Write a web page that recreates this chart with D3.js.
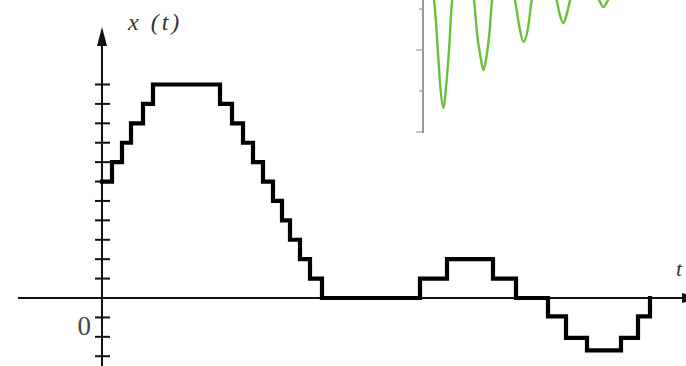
<!DOCTYPE html>
<html>
<head>
<meta charset="utf-8">
<script src="https://cdn.jsdelivr.net/npm/d3@7"></script>
<style>
  body { margin: 0; background: #fff; }
  svg { display: block; }
</style>
</head>
<body>
<script>
var width = 686, height = 366;

// quantized signal: step start time and level
var stepT = [0, 1.0, 2.0, 2.9, 4.1, 5.1, 11.8, 13.0, 14.1, 15.1, 16.1, 17.1, 18.0, 18.8, 19.8, 20.8, 22.0,
             31.8, 34.5, 39.1, 41.4, 44.6, 46.4, 48.5, 51.9, 53.6, 54.8];
var stepLevel = [6, 7, 8, 9, 10, 11, 10, 9, 8, 7, 6, 5, 4, 3, 2, 1, 0,
                 1, 2, 1, 0, -0.95, -2.05, -2.7, -2.05, -0.95, 0];
var yTicks = [-3, -2, -1, 1, 2, 3, 4, 5, 6, 7, 8, 9, 10, 11];

// inset (green damped curve)
var insetT = [0, 0.275, 0.37, 0.425, 0.51, 0.585, 0.65, 0.73, 1.0,
              1.275, 1.35, 1.45, 1.51, 1.575, 1.66, 1.73, 2.0,
              2.3, 2.41, 2.51, 2.63, 2.72, 3.0,
              3.34, 3.41, 3.51, 3.6, 3.68, 4.0,
              4.4, 4.51, 4.63, 5.0, 6.0];
var insetV = [0.95, 0.22, -1.0, -1.8, -2.41, -1.8, -1.0, 0.22, 1.2,
              0.22, -0.59, -1.24, -1.49, -1.24, -0.59, 0.22, 0.95,
              0.22, -0.44, -0.8, -0.44, 0.22, 0.83,
              0.22, -0.1, -0.34, -0.1, 0.22, 0.7,
              0.22, 0.05, 0.22, 0.7, 0.7];
var insetTicks = [0, -1, -2, -3];

var svg = d3.select("body").append("svg")
    .attr("width", width)
    .attr("height", height);

// ---- inset ----
var ix = d3.scaleLinear().domain([0, 6]).range([423, 663]);
var iy = d3.scaleLinear().domain([0, -3]).range([9, 132]);

var inset = svg.append("g");
inset.append("line")
    .attr("x1", ix(0)).attr("x2", ix(0))
    .attr("y1", 0).attr("y2", iy(-3) + 1)
    .attr("stroke", "#9a9a9a").attr("stroke-width", 2);
inset.selectAll(".itick").data(insetTicks).enter().append("line")
    .attr("x1", function(d, i){ return ix(0) - (i % 2 ? 7 : 4); })
    .attr("x2", ix(0))
    .attr("y1", function(d){ return iy(d); })
    .attr("y2", function(d){ return iy(d); })
    .attr("stroke", "#9a9a9a").attr("stroke-width", 1.2);

var insetLine = d3.line()
    .x(function(d){ return ix(d[0]); })
    .y(function(d){ return iy(d[1]); })
    .curve(d3.curveMonotoneX);

inset.append("path")
    .datum(d3.zip(insetT, insetV))
    .attr("d", insetLine)
    .attr("fill", "none")
    .attr("stroke", "#6cbf3c")
    .attr("stroke-width", 2.4);

// ---- main plot ----
var x = d3.scaleLinear().domain([0, 10]).range([102, 202]);
var y = d3.scaleLinear().domain([0, 11]).range([298, 84.5]);

// horizontal axis with arrow
svg.append("line")
    .attr("x1", 18).attr("x2", 686)
    .attr("y1", y(0)).attr("y2", y(0))
    .attr("stroke", "#111").attr("stroke-width", 2);
svg.append("path")
    .attr("d", "M682," + (y(0) - 5) + "L700," + y(0) + "L682," + (y(0) + 5) + "Z")
    .attr("fill", "#111");

// vertical axis with arrow
svg.append("line")
    .attr("x1", x(0)).attr("x2", x(0))
    .attr("y1", 40).attr("y2", height)
    .attr("stroke", "#111").attr("stroke-width", 2);
svg.append("path")
    .attr("d", "M" + (x(0) - 5) + ",46L" + x(0) + ",27L" + (x(0) + 5) + ",46Z")
    .attr("fill", "#111");

svg.selectAll(".ytick").data(yTicks).enter().append("line")
    .attr("x1", x(0) - 7).attr("x2", x(0) + 8)
    .attr("y1", function(d){ return y(d); })
    .attr("y2", function(d){ return y(d); })
    .attr("stroke", "#111").attr("stroke-width", 2);

// staircase
var stepLine = d3.line()
    .x(function(d){ return x(d[0]); })
    .y(function(d){ return y(d[1]); })
    .curve(d3.curveStepAfter);

svg.append("path")
    .datum(d3.zip(stepT, stepLevel))
    .attr("d", stepLine)
    .attr("fill", "none")
    .attr("stroke", "#000")
    .attr("stroke-width", 4.2)
    .attr("stroke-linejoin", "miter")
    .attr("stroke-linecap", "square");

// labels
svg.append("text")
    .attr("x", 128).attr("y", 30)
    .attr("font-family", "Liberation Serif, serif")
    .attr("font-style", "italic")
    .attr("font-size", 24)
    .attr("letter-spacing", 3)
    .attr("fill", "#333")
    .text("x (t)");

svg.append("text")
    .attr("x", 91).attr("y", 335)
    .attr("text-anchor", "end")
    .attr("font-family", "Liberation Serif, serif")
    .attr("font-size", 27)
    .attr("fill", "#444")
    .text("0");

svg.append("text")
    .attr("x", 676).attr("y", 276)
    .attr("font-family", "Liberation Serif, serif")
    .attr("font-style", "italic")
    .attr("font-size", 22)
    .attr("fill", "#333")
    .text("t");
</script>
</body>
</html>
